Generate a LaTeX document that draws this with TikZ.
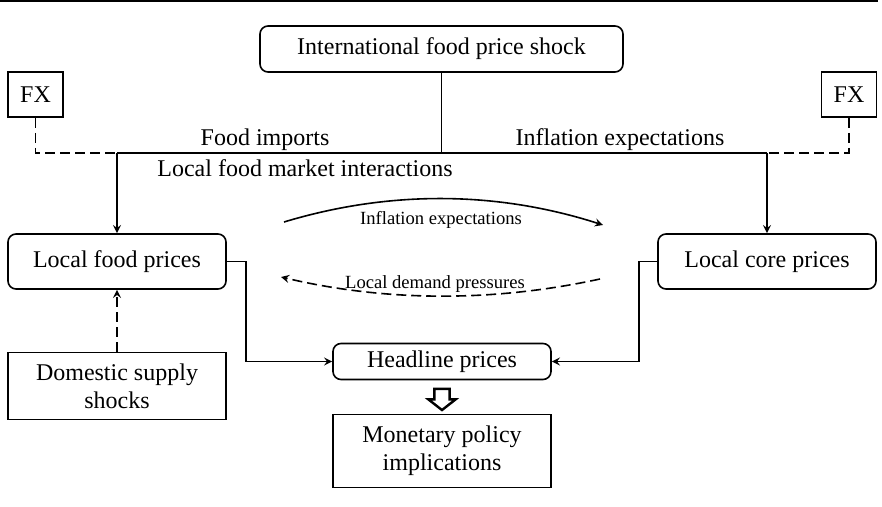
\documentclass[tikz,border=0pt]{standalone}
\usepackage{fontspec}
\setmainfont{Liberation Serif}
\usetikzlibrary{shapes, arrows, calc, positioning}

\begin{document}
\begin{tikzpicture}[>=stealth, x=0.5pt, y=-0.5pt, line width=0.8pt]
    \tikzstyle{rbox} = [draw, rounded corners=4pt, minimum width=109pt, minimum height=27.5pt,
	inner sep=0pt, font=\fontsize{12}{14}\selectfont]
    \tikzstyle{sbox} = [draw, minimum width=109pt, inner sep=0pt, align=center,
	font=\fontsize{12}{14}\selectfont]
    \tikzstyle{lbl} = [inner sep=0pt, font=\fontsize{12}{14}\selectfont]
    \tikzstyle{small} = [inner sep=0pt, font=\fontsize{9.3}{11}\selectfont]
    \tikzstyle{dashline} = [dash pattern=on 5pt off 2.5pt]

    \useasboundingbox (0,0) rectangle (882,507);
    \draw (0,1) -- (878,1);

		\path
			node[rbox, minimum width=181.5pt, minimum height=23pt] (intl) at (441.5,49) {International food price shock}
			node[sbox, minimum width=27.5pt, minimum height=22.5pt] (fxl) at (35.5,94.5) {FX}
			node[sbox, minimum width=27.5pt, minimum height=22.5pt] (fxr) at (849,94.5) {FX}
			node[rbox] (food) at (117,261.5) {Local food prices}
			node[rbox] (core) at (767,261.5) {Local core prices}
			node[rbox, minimum height=18pt] (head) at (442,361.5) {Headline prices}
			node[sbox, minimum height=33.5pt] (dom) at (117,386) {Domestic supply\\shocks}
			node[sbox, minimum height=36.5pt] (mon) at (442,451) {Monetary policy\\implications}
			node[lbl] (imp) at (265,140) {Food imports}
			node[lbl] (mkt) at (305,168) {Local food market interactions}
			node[lbl] (exp) at (620,140) {Inflation expectations}
			node[small] (iet) at (441,220) {Inflation expectations}
			node[small] (ldt) at (435,284) {Local demand pressures}
			node[single arrow, draw, line width=1.2pt, shape border rotate=270, minimum height=9pt,
			minimum width=12.5pt, single arrow head extend=3pt, single arrow tip angle=104,
			inner sep=3.2pt] (fat) at (442,396.5) {}
		;

		\coordinate (hubl) at (117,153);
		\coordinate (hubr) at (767,153);
		\coordinate (iel) at (284,222);
		\coordinate (ier) at (603,225);
		\coordinate (ldr) at (600,279);
		\coordinate (ldl) at (281,277);

		\draw (intl.south) -- (intl.south |- hubl);
		\draw (hubl) -- (hubr);
		\draw[->] (hubl) -- (food.north);
		\draw[->] (hubr) -- (core.north);
		\draw[dashline] (fxl.south) |- (hubl);
		\draw[dashline] (fxr.south) |- (hubr);
		\draw[->, dashline] (dom.north) -- (food.south);
		\draw[->] (food.east) -- ++(19,0) |- (head.west);
		\draw[->] (core.west) -- ++(-18,0) |- (head.east);
		\draw[->] (iel) .. controls (390,190) and (497,191) .. (ier);
		\draw[->, dashline] (ldr) .. controls (494,302) and (387,302) .. (ldl);

\end{tikzpicture}
\end{document}
